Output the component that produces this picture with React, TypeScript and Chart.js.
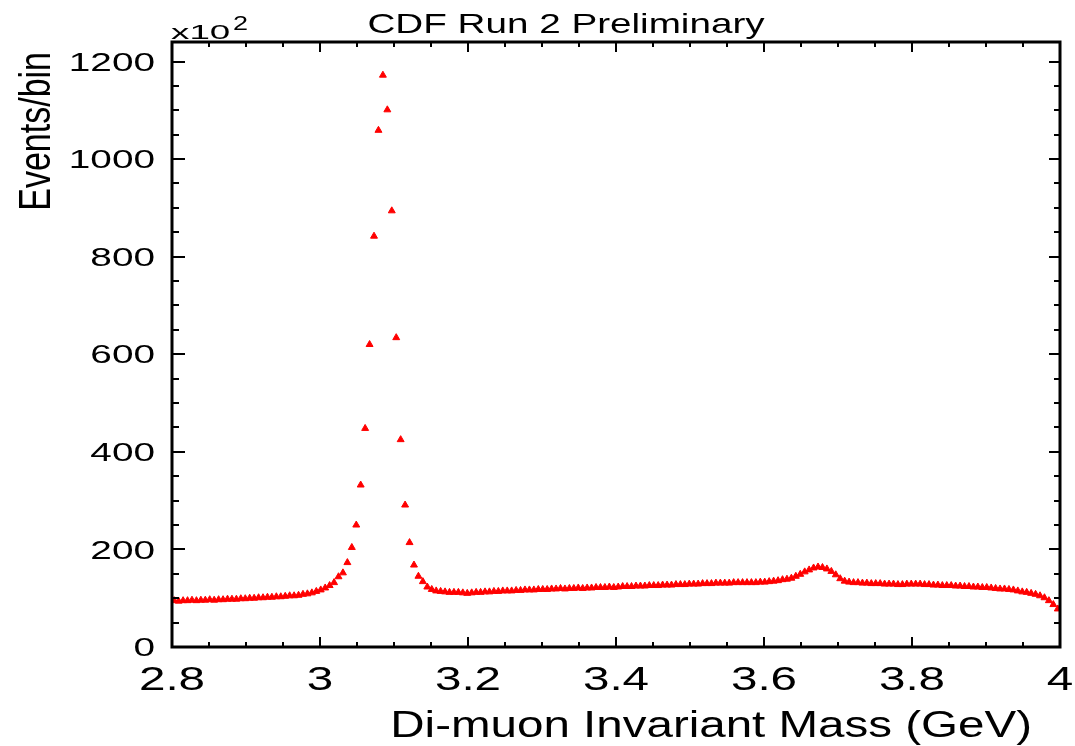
import React, { useEffect, useRef } from "react";
import { Chart, registerables } from "chart.js";

Chart.register(...registerables);

// ---- Text ----
const TITLE = "CDF Run 2 Preliminary";
const X_TITLE = "Di-muon Invariant Mass (GeV)";
const Y_TITLE = "Events/bin";
const Y_EXP_BASE = "x10";
const Y_EXP_POWER = "2";

// ---- Binning (histogram: 200 bins of 6 MeV from 2.8 to 4.0 GeV) ----
const MASS_MIN = 2.8;
const MASS_MAX = 4.0;
const BIN_WIDTH = 0.006;
const Y_MIN = 0;
const Y_MAX = 1240;

// ---- Events per bin (x10^2) ----
const EVENTS: number[] = [
  95, 94, 95, 95, 96, 95, 96, 96, 97, 96,
  97, 97, 98, 98, 98, 99, 99, 100, 100, 101,
  101, 102, 102, 103, 103, 104, 105, 105, 106, 108,
  109, 111, 114, 117, 121, 126, 132, 144, 152, 173,
  204, 250, 332, 448, 620, 842, 1059, 1172, 1101, 894,
  634, 425, 291, 214, 168, 145, 134, 123, 118, 115,
  114, 113, 112, 112, 112, 111, 110, 111, 112, 112,
  113, 113, 114, 114, 115, 115, 115, 116, 116, 117,
  117, 117, 118, 118, 118, 119, 119, 120, 119, 120,
  120, 121, 120, 121, 121, 122, 122, 122, 123, 122,
  123, 124, 124, 124, 125, 125, 125, 126, 126, 126,
  127, 127, 127, 128, 128, 128, 129, 129, 129, 130,
  130, 130, 131, 131, 131, 131, 132, 132, 132, 132,
  132, 132, 133, 133, 134, 135, 136, 138, 139, 141,
  145, 149, 154, 158, 162, 164, 163, 160, 155, 148,
  140, 135, 133, 132, 132, 131, 131, 130, 130, 130,
  129, 129, 129, 128, 128, 129, 129, 129, 129, 128,
  128, 127, 127, 126, 126, 126, 125, 125, 124, 124,
  123, 123, 122, 122, 121, 120, 119, 119, 118, 117,
  115, 113, 112, 110, 108, 105, 101, 95, 87, 78,
];

// ---- Axis ticks ----
const X_TICK_VALUES = [2.8, 3.0, 3.2, 3.4, 3.6, 3.8, 4.0];
const X_TICK_LABELS = ["2.8", "3", "3.2", "3.4", "3.6", "3.8", "4"];
const X_MINOR_STEP = 0.05;
const Y_TICK_VALUES = [0, 200, 400, 600, 800, 1000, 1200];
const Y_TICK_LABELS = ["0", "200", "400", "600", "800", "1000", "1200"];
const Y_MINOR_STEP = 50;

const FONT = '"Liberation Sans", Arial, Helvetica, sans-serif';

function stretchedText(
  ctx: CanvasRenderingContext2D,
  text: string,
  x: number,
  y: number,
  size: number,
  sx: number,
  align: CanvasTextAlign
) {
  ctx.save();
  ctx.translate(x, y);
  ctx.scale(sx, 1);
  ctx.font = `${size}px ${FONT}`;
  ctx.textAlign = align;
  ctx.textBaseline = "alphabetic";
  ctx.fillStyle = "#000";
  ctx.fillText(text, 0, 0);
  ctx.restore();
}

const rootFramePlugin = {
  id: "rootFrame",
  afterDraw(chart: any) {
    const ctx: CanvasRenderingContext2D = chart.ctx;
    const { left, right, top, bottom } = chart.chartArea;
    const xs = chart.scales.x;
    const ys = chart.scales.y;
    ctx.save();

    // ticks
    ctx.strokeStyle = "#000";
    ctx.lineWidth = 2;
    ctx.beginPath();
    for (let v = MASS_MIN; v <= MASS_MAX + 1e-9; v += X_MINOR_STEP) {
      const major = X_TICK_VALUES.some((t) => Math.abs(t - v) < 1e-6);
      const px = Math.round(xs.getPixelForValue(v));
      const lb = major ? 10 : 5;
      const lt = major ? 10 : 5;
      ctx.moveTo(px, bottom);
      ctx.lineTo(px, bottom - lb);
      ctx.moveTo(px, top);
      ctx.lineTo(px, top + lt);
    }
    for (let v = Y_MIN; v <= Y_MAX + 1e-9; v += Y_MINOR_STEP) {
      const major = Y_TICK_VALUES.includes(v);
      const py = Math.round(ys.getPixelForValue(v));
      const ll = major ? 13 : 7;
      const lr = major ? 11 : 6;
      ctx.moveTo(left, py);
      ctx.lineTo(left + ll, py);
      ctx.moveTo(right, py);
      ctx.lineTo(right - lr, py);
    }
    ctx.stroke();

    // frame
    ctx.lineWidth = 3;
    ctx.strokeRect(left, top, right - left, bottom - top);

    // tick labels
    X_TICK_VALUES.forEach((v, i) => {
      stretchedText(ctx, X_TICK_LABELS[i], xs.getPixelForValue(v), 690, 34, 1.4, "center");
    });
    Y_TICK_VALUES.forEach((v, i) => {
      stretchedText(ctx, Y_TICK_LABELS[i], 155, ys.getPixelForValue(v) + 9.2, 25.5, 1.52, "right");
    });

    // titles
    stretchedText(ctx, TITLE, 566, 33, 28, 1.38, "center");
    stretchedText(ctx, X_TITLE, 1032, 737, 36, 1.32, "right");
    stretchedText(ctx, Y_EXP_BASE, 171, 39, 21, 1.75, "left");
    stretchedText(ctx, Y_EXP_POWER, 233, 30, 20, 1.35, "left");

    // rotated y title
    ctx.save();
    ctx.translate(50, 52);
    ctx.scale(1.29, 1);
    ctx.rotate(-Math.PI / 2);
    ctx.font = `34px ${FONT}`;
    ctx.textAlign = "right";
    ctx.textBaseline = "alphabetic";
    ctx.fillStyle = "#000";
    ctx.fillText(Y_TITLE, 0, 0);
    ctx.restore();

    ctx.restore();
  },
};

export default function App() {
  const canvasRef = useRef<HTMLCanvasElement | null>(null);

  useEffect(() => {
    const canvas = canvasRef.current;
    if (!canvas) return;
    const points = EVENTS.map((y, i) => ({
      x: MASS_MIN + BIN_WIDTH * (i + 0.5),
      y,
    }));
    const chart = new Chart(canvas, {
      type: "scatter",
      data: {
        datasets: [
          {
            data: points,
            pointStyle: "triangle",
            pointRadius: 4,
            pointBorderWidth: 1,
            backgroundColor: "#ff0000",
            borderColor: "#ff0000",
            showLine: false,
          },
        ],
      },
      options: {
        animation: false,
        responsive: false,
        devicePixelRatio: 1,
        layout: { padding: { left: 172, right: 15, top: 42, bottom: 99 } },
        plugins: {
          legend: { display: false },
          tooltip: { enabled: false },
          title: { display: false },
        },
        scales: {
          x: { type: "linear", min: MASS_MIN, max: MASS_MAX, display: false },
          y: { type: "linear", min: Y_MIN, max: Y_MAX, display: false },
        },
      },
      plugins: [rootFramePlugin],
    });
    return () => chart.destroy();
  }, []);

  return (
    <div style={{ position: "absolute", left: 0, top: 0, width: 1075, height: 746, background: "#fff" }}>
      <canvas ref={canvasRef} width={1075} height={746} style={{ width: 1075, height: 746 }} />
    </div>
  );
}
